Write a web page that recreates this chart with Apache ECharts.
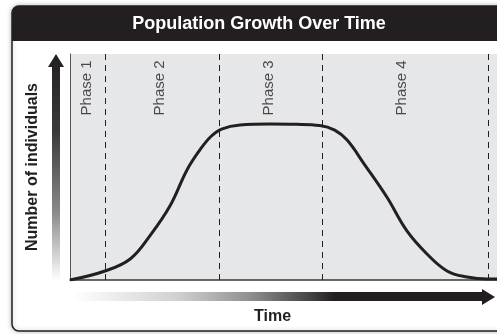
<!DOCTYPE html>
<html>
<head>
<meta charset="utf-8">
<script src="https://cdn.jsdelivr.net/npm/echarts@6/dist/echarts.min.js"></script>
<style>
  html, body { margin: 0; padding: 0; background: #ffffff; }
  #chart { width: 497px; height: 334px; }
</style>
</head>
<body>
<div id="chart"></div>
<script>
// Population curve: time (0-100) against number of individuals (0-100)
const timeValues = [0, 8.2, 14.1, 18.7, 23.4, 27.4, 30.4, 33.0, 35.5, 39.8, 46.8, 53.0, 58.5, 62.0, 64.9, 68.9, 74.2, 78.9, 83.6, 88.3, 93.0, 97.7, 100];
const populationValues = [0, 4.0, 9.3, 19.5, 32.7, 48.7, 57.5, 63.5, 66.8, 68.6, 69.0, 68.9, 68.4, 66.3, 61.9, 51.3, 36.7, 21.7, 11.5, 4.0, 1.3, 0.4, 0.4];

// Phase names, their label positions and the boundaries between phases
const phaseNames = ['Phase 1', 'Phase 2', 'Phase 3', 'Phase 4'];
const phaseLabelTime = [4.0, 21.1, 46.6, 77.8];
const phaseBoundaries = [8.2, 34.9, 59.0, 97.9];
const phaseLabelLevel = 85;

const chartTitle = 'Population Growth Over Time';
const xAxisTitle = 'Time';
const yAxisTitle = 'Number of individuals';

const ink = '#231f20';
const narrow = '"Liberation Sans Narrow", "Arial Narrow", "Liberation Sans", sans-serif';

const chart = echarts.init(document.getElementById('chart'), null, { renderer: 'canvas' });

const curveData = timeValues.map((t, i) => [t, populationValues[i]]);
const phaseData = phaseNames.map((name, i) => ({ name: name, value: [phaseLabelTime[i], phaseLabelLevel] }));

chart.setOption({
  animation: false,
  backgroundColor: '#ffffff',
  grid: {
    left: 70, right: 0, top: 54, bottom: 54,
    show: true, backgroundColor: '#e6e7e8', borderWidth: 0
  },
  xAxis: {
    type: 'value', min: 0, max: 100,
    axisLine: { show: true, lineStyle: { color: '#3a3a3a', width: 1.5 } },
    axisTick: { show: false }, axisLabel: { show: false }, splitLine: { show: false },
    name: xAxisTitle, nameLocation: 'middle', nameGap: 29,
    nameTextStyle: { fontFamily: narrow, fontWeight: 'bold', fontSize: 16, color: ink, padding: [0, 22, 0, 0] }
  },
  yAxis: {
    type: 'value', min: 0, max: 100,
    axisLine: { show: true, lineStyle: { color: '#555555', width: 1 } },
    axisTick: { show: false }, axisLabel: { show: false }, splitLine: { show: false },
    name: yAxisTitle, nameLocation: 'middle', nameRotate: 90, nameGap: 29,
    nameTextStyle: { fontFamily: narrow, fontWeight: 'bold', fontSize: 16, color: ink }
  },
  series: [
    {
      type: 'line',
      data: curveData,
      smooth: 0.4,
      showSymbol: false,
      symbol: 'none',
      lineStyle: { color: ink, width: 3 },
      z: 3,
      markLine: {
        silent: true,
        symbol: ['none', 'none'],
        label: { show: false },
        lineStyle: { color: ink, type: [6, 5], width: 1 },
        data: phaseBoundaries.map(v => ({ xAxis: v }))
      }
    },
    {
      type: 'scatter',
      data: phaseData,
      symbolSize: 0,
      silent: true,
      label: {
        show: true,
        formatter: '{b}',
        position: 'inside',
        rotate: 90,
        align: 'center',
        verticalAlign: 'middle',
        fontFamily: narrow,
        fontSize: 15,
        color: ink
      },
      z: 4
    }
  ],
  graphic: [
    {
      type: 'rect', z: -10,
      shape: { x: 12, y: 6, width: 500, height: 325, r: 7 },
      style: { fill: '#ffffff', stroke: ink, lineWidth: 1.5, shadowBlur: 5, shadowColor: 'rgba(0,0,0,0.25)' }
    },
    {
      type: 'rect', z: -9,
      shape: { x: 12, y: 6, width: 500, height: 35, r: [7, 7, 0, 0] },
      style: { fill: ink }
    },
    {
      type: 'text', z: 10,
      x: 259, y: 24,
      style: {
        text: chartTitle, fill: '#ffffff', fontFamily: narrow, fontWeight: 'bold', fontSize: 18,
        textAlign: 'center', textVerticalAlign: 'middle'
      }
    },
    {
      // vertical arrow for the population axis
      type: 'polygon', z: 5,
      shape: { points: [[52, 281], [60, 281], [60, 67], [64, 67], [56, 54], [48, 67], [52, 67]] },
      style: {
        fill: {
          type: 'linear', x: 0, y: 0, x2: 0, y2: 1,
          colorStops: [
            { offset: 0, color: ink },
            { offset: 0.35, color: '#3b3b3d' },
            { offset: 0.7, color: '#8a8b8d' },
            { offset: 1, color: '#ffffff' }
          ]
        }
      }
    },
    {
      // horizontal arrow for the time axis
      type: 'polygon', z: 5,
      shape: { points: [[73, 292], [482, 292], [482, 289], [495, 297], [482, 305], [482, 301], [73, 301]] },
      style: {
        fill: {
          type: 'linear', x: 0, y: 0, x2: 1, y2: 0,
          colorStops: [
            { offset: 0, color: '#ffffff' },
            { offset: 0.25, color: '#cfd0d1' },
            { offset: 0.42, color: '#8e8f91' },
            { offset: 0.55, color: '#4a4a4c' },
            { offset: 0.62, color: ink },
            { offset: 1, color: ink }
          ]
        }
      }
    }
  ]
});
</script>
</body>
</html>
